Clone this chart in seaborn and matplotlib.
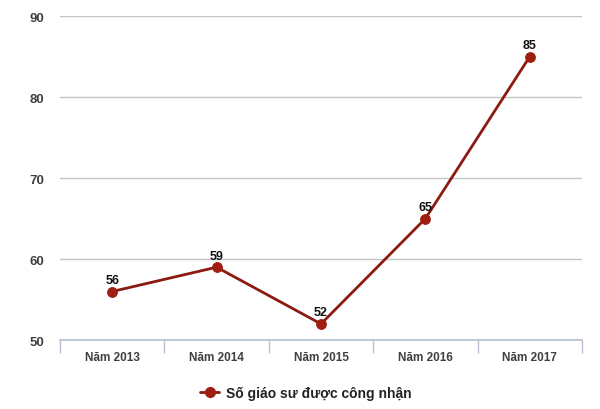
import matplotlib
matplotlib.use("Agg")
import matplotlib.pyplot as plt
import seaborn as sns
import pandas as pd
from matplotlib.lines import Line2D

categories = ["Năm 2013", "Năm 2014", "Năm 2015", "Năm 2016", "Năm 2017"]
values = [56, 59, 52, 65, 85]
series_name = "Số giáo sư được công nhận"
y_ticks = [50, 60, 70, 80, 90]

sns.set_theme(style="white")
plt.rcParams["font.family"] = ["Liberation Sans", "DejaVu Sans"]

df = pd.DataFrame({"x": list(range(len(categories))), "y": values})

fig = plt.figure(figsize=(6, 4.1), dpi=100)
ax = fig.add_axes([0.1, 0.168, 0.87, 0.7905])

line_color = "#8B1A10"
sns.lineplot(data=df, x="x", y="y", ax=ax, color=line_color, linewidth=2,
             marker="o", markersize=7, markerfacecolor="#A01E10",
             markeredgecolor="#A01E10")

for xi, v in zip(df["x"], df["y"]):
    ax.annotate(str(v), (xi, v), xytext=(0, 4), textcoords="offset points",
                ha="center", va="bottom", fontsize=9, fontweight="bold",
                color="#111111")

ax.set_xlim(-0.5, len(categories) - 0.5)
ax.set_ylim(50, 90)
ax.set_yticks(y_ticks)
ax.set_yticklabels([str(t) for t in y_ticks], fontsize=9.5, fontweight="bold",
                   color="#404040")
ax.set_xticks(range(len(categories)))
ax.set_xticklabels(categories, fontsize=8.5, fontweight="bold", color="#404040")
ax.set_xticks([i - 0.5 for i in range(len(categories) + 1)], minor=True)
ax.tick_params(axis="x", which="major", length=0, pad=8)
ax.tick_params(axis="x", which="minor", length=9, width=1, color="#b8c0d0",
               direction="out", bottom=True)
ax.tick_params(axis="y", length=0, pad=11.5)

ax.grid(axis="y", color="#c4c4c4", linewidth=1)
ax.grid(axis="x", visible=False)
ax.set_axisbelow(True)
for s in ["top", "right", "left"]:
    ax.spines[s].set_visible(False)
ax.spines["bottom"].set_color("#b8c0d0")
ax.spines["bottom"].set_linewidth(1.2)
ax.set_xlabel("")
ax.set_ylabel("")

handle = Line2D([0], [0], color=line_color, linewidth=2, marker="o",
                markersize=7, markerfacecolor="#A01E10",
                markeredgecolor="#A01E10")
leg = fig.legend([handle], [series_name], loc="center",
                 bbox_to_anchor=(0.51, 0.04), frameon=False,
                 prop={"weight": "bold", "size": 10}, handlelength=1.4,
                 handletextpad=0.5)
for t in leg.get_texts():
    t.set_color("#222222")

fig.savefig("out.png", dpi=100)
